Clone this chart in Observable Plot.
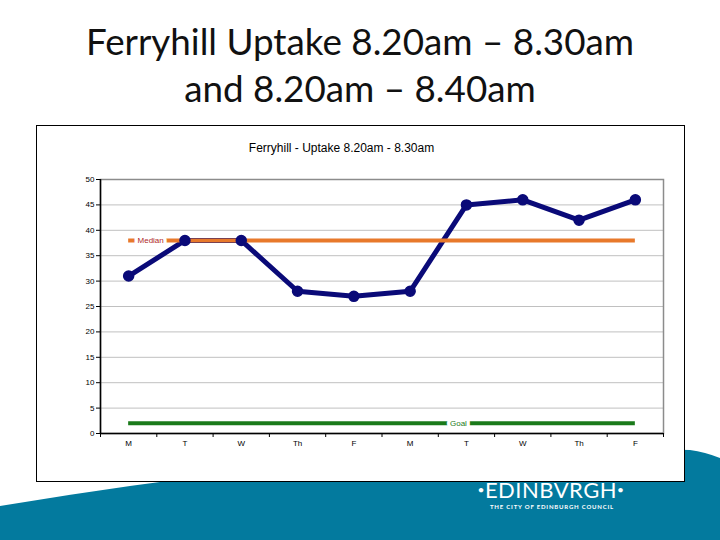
<!DOCTYPE html>
<html><head><meta charset="utf-8">
<script src="https://cdn.jsdelivr.net/npm/d3@7"></script>
<script src="https://cdn.jsdelivr.net/npm/@observablehq/plot@0.6"></script>
<style>
html,body{margin:0;padding:0;}
body{width:720px;height:540px;position:relative;overflow:hidden;background:#fff;}
#bg{position:absolute;left:0;top:0;}
#title{position:absolute;left:0;top:18px;width:720px;text-align:center;font-family:Lato,"Open Sans",sans-serif;font-size:36.8px;line-height:47px;color:#111;}
#box{position:absolute;left:36px;top:125px;width:649px;height:357px;box-sizing:border-box;border:1px solid #000;background:#fff;}
#box svg{position:absolute;left:0;top:0;}
#ctitle{position:absolute;left:0;top:15px;width:609px;text-align:center;font-family:"Liberation Sans",Arial,sans-serif;font-size:12px;color:#000;z-index:2;}
</style></head><body>
<svg id="bg" width="720" height="540">
  <path d="M0,506 Q380,442 690,450 Q705,452 720,458 L720,540 L0,540 Z" fill="#037a9e"/>
  <text x="551" y="498" text-anchor="middle" fill="#fff" font-family="Lato,sans-serif" font-size="22" letter-spacing="0.5"><tspan font-size="12" dy="-4">•</tspan><tspan dy="4">EDINBVRGH</tspan><tspan font-size="12" dy="-4">•</tspan></text>
  <text x="552" y="509" text-anchor="middle" fill="#fff" font-family="Lato,sans-serif" font-weight="bold" font-size="6" letter-spacing="0.8">THE CITY OF EDINBURGH COUNCIL</text>
</svg>
<div id="title">Ferryhill Uptake 8.20am – 8.30am<br>and 8.20am – 8.40am</div>
<div id="box"><div id="ctitle">Ferryhill - Uptake 8.20am - 8.30am</div></div>
<script>
const days = ["M","T","W","Th","F","M","T","W","Th","F"];
const uptake = [31, 38, 38, 28, 27, 28, 45, 46, 42, 46];
const median = 38;
const goal = 2;
const yTicks = [0,5,10,15,20,25,30,35,40,45,50];

const data = days.map((d, i) => ({i, day: d, v: uptake[i]}));
const idx = d3.range(days.length);
const bounds = d3.range(days.length + 1).map(k => k - 0.5);
const font = "Liberation Sans, Arial, sans-serif";

const chart = Plot.plot({
  width: 647,
  height: 355,
  marginLeft: 63,
  marginRight: 21,
  marginTop: 53,
  marginBottom: 48,
  style: {fontFamily: font, fontSize: "8px", background: "transparent", overflow: "visible"},
  x: {type: "linear", domain: [-0.5, days.length - 0.5], axis: null},
  y: {domain: [0, 50], axis: null},
  marks: [
    Plot.ruleY(yTicks.filter(t => t > 0), {stroke: "#c0c0c0", strokeWidth: 1}),
    Plot.frame({stroke: "#8c8c8c", strokeWidth: 1.5}),
    Plot.axisY({ticks: yTicks, tickSize: 4, tickPadding: 2, fontSize: 8, stroke: "#000", fill: "#000", label: null}),
    Plot.axisX({ticks: bounds, tickSize: 4, tickFormat: () => "", stroke: "#000", label: null}),
    Plot.axisX({ticks: idx, tickSize: 0, tickPadding: 7, tickFormat: i => days[i], fontSize: 8, fill: "#000", label: null}),
    Plot.ruleX([-0.5], {stroke: "#000", strokeWidth: 1.5}),
    Plot.ruleY([0], {stroke: "#000", strokeWidth: 1.5}),
    Plot.line(data, {x: "i", y: "v", stroke: "#0a0a78", strokeWidth: 5}),
    Plot.ruleY([median], {x1: 0, x2: days.length - 1, stroke: "#e8792b", strokeWidth: 4}),
    Plot.ruleY([goal], {x1: 0, x2: days.length - 1, stroke: "#1a7a1a", strokeWidth: 4}),
    Plot.text(["Median"], {x: 0, y: median, dx: 22, text: d => d, fill: "#b02a2a", stroke: "#fff", strokeWidth: 7, fontSize: 8, letterSpacing: "0.5px"}),
    Plot.text(["Goal"], {x: 6, y: goal, dx: -8, text: d => d, fill: "#1a7a1a", stroke: "#fff", strokeWidth: 7, fontSize: 8, letterSpacing: "0.5px"}),
    Plot.dot(data, {x: "i", y: "v", r: 5, fill: "#0a0a78", stroke: "#0a0a78"})
  ]
});
document.getElementById("box").appendChild(chart);
</script>
</body></html>
